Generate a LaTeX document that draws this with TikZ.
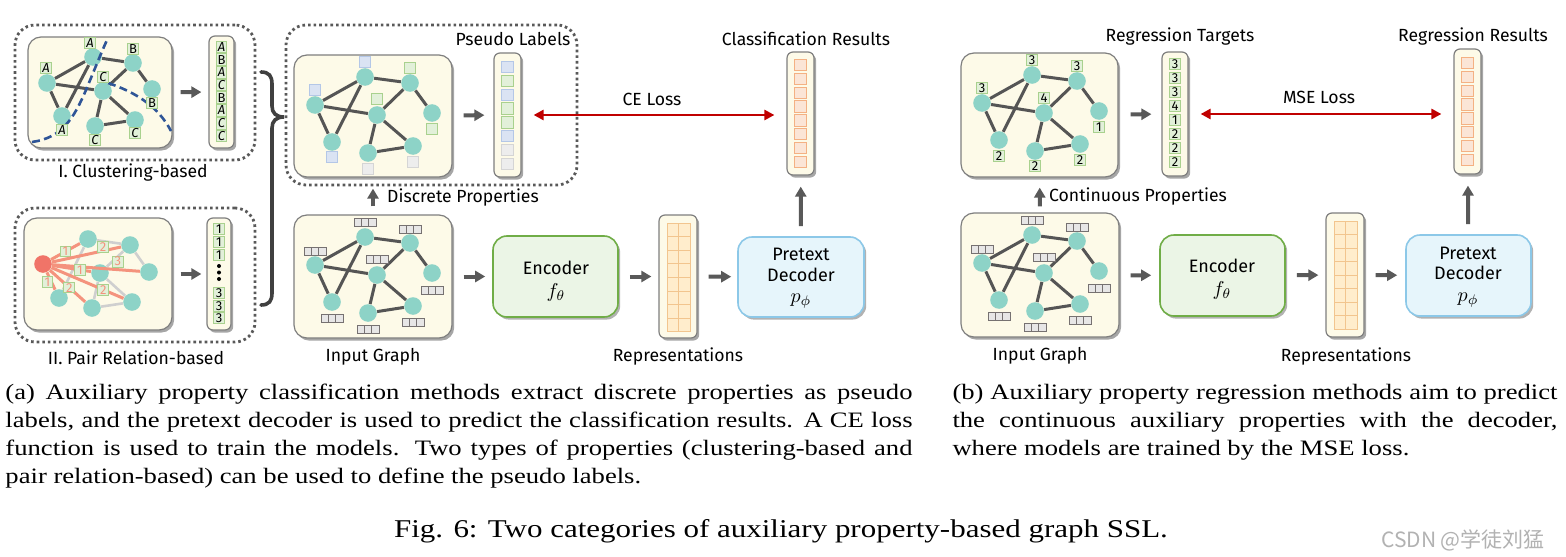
\documentclass[tikz,border=0pt]{standalone}
\usepackage{fontspec}
\setmainfont{Liberation Serif}
\newfontfamily\dfont{Fira Sans}
\newfontfamily\wmfont{Noto Sans CJK SC}
\usetikzlibrary{arrows.meta,shadows,fit,calc}
\definecolor{cream}{HTML}{FDFAE8}
\definecolor{boxgray}{HTML}{7F7F7F}
\definecolor{dotgray}{HTML}{595959}
\definecolor{nteal}{HTML}{8DD3C7}
\definecolor{edgegray}{HTML}{555555}
\definecolor{arrowgray}{HTML}{595959}
\definecolor{dred}{HTML}{C00000}
\definecolor{dblue}{HTML}{2F5597}
\definecolor{sqgf}{HTML}{E2F0D9}
\definecolor{sqgd}{HTML}{A9D18E}
\definecolor{sqbf}{HTML}{DAE3F3}
\definecolor{sqbd}{HTML}{B4C7E7}
\definecolor{sqyf}{HTML}{EDEDED}
\definecolor{sqyd}{HTML}{D5D5D5}
\definecolor{resf}{HTML}{FBE5D6}
\definecolor{resd}{HTML}{F4B183}
\definecolor{repf}{HTML}{FFEDCC}
\definecolor{repd}{HTML}{F2C58E}
\definecolor{encf}{HTML}{EBF5E6}
\definecolor{encd}{HTML}{70AD47}
\definecolor{decf}{HTML}{E6F5FB}
\definecolor{decd}{HTML}{8CC8E8}
\definecolor{featf}{HTML}{E7E6E6}
\definecolor{featd}{HTML}{767171}
\definecolor{salmon}{HTML}{F4937D}
\definecolor{rednode}{HTML}{F07468}
\definecolor{lgray}{HTML}{CFCFCF}
\definecolor{bracec}{HTML}{404040}
\tikzset{
 gbox/.style={draw=boxgray, line width=0.6pt, fill=cream, rounded corners=6.5pt, inner sep=0pt,
   drop shadow={shadow xshift=1.1pt, shadow yshift=-1.3pt, opacity=0.35, fill=black}},
 vbox/.style={gbox, rounded corners=3pt},
 dotbox/.style={draw=dotgray, line width=1.4pt, dash pattern=on 1.3pt off 1.5pt, rounded corners=10pt, inner sep=0pt},
 gn/.style={circle, fill=nteal, minimum size=8.8pt, inner sep=0pt},
 ge/.style={draw=edgegray, line width=1.5pt},
 garrow/.style={draw=arrowgray, line width=2pt, -{Triangle[length=5pt,width=5.5pt]}},
 larrow/.style={draw=dred, line width=1.3pt, {Triangle[length=5pt,width=5pt]}-{Triangle[length=5pt,width=5pt]}},
 lbl/.style={font=\dfont\fontsize{8.8}{10}\selectfont, inner sep=0pt},
 blbl/.style={font=\dfont\fontsize{9}{11}\selectfont, inner sep=0pt},
 mlbl/.style={font=\fontsize{10}{11}\selectfont, inner sep=0pt},
 sqt/.style={draw=sqgd, fill=sqgf, line width=0.5pt, minimum width=5.4pt, minimum height=5.4pt, inner sep=0pt, font=\dfont\fontsize{6.5}{6.5}\selectfont},
 sqv/.style={sqt, minimum height=5.8pt},
 sqp/.style={line width=0.5pt, minimum size=5.6pt, inner sep=0pt},
 feat/.style={draw=featd, fill=featf, line width=0.5pt, minimum width=11pt, minimum height=4pt, inner sep=0pt,
   path picture={\draw[featd, line width=0.5pt]
     ($(path picture bounding box.south west)!0.3333!(path picture bounding box.south east)$) --
     ($(path picture bounding box.north west)!0.3333!(path picture bounding box.north east)$)
     ($(path picture bounding box.south west)!0.6667!(path picture bounding box.south east)$) --
     ($(path picture bounding box.north west)!0.6667!(path picture bounding box.north east)$);}},
 encbox/.style={draw=encd, fill=encf, line width=0.8pt, rounded corners=7pt, inner sep=0pt,
   drop shadow={shadow xshift=1.1pt, shadow yshift=-1.3pt, opacity=0.3, fill=black}},
 decbox/.style={encbox, draw=decd, fill=decf},
 repcell/.style={draw=repd, fill=repf, line width=0.5pt},
 rescell/.style={draw=resd, fill=resf, line width=0.5pt, minimum size=5.6pt, inner sep=0pt},
 cdash/.style={draw=dblue, line width=1.3pt, dash pattern=on 4pt off 2.2pt},
 captxt/.style={font=\fontsize{11}{14}\selectfont, inner sep=0pt, transform shape},
}
\newcommand{\stdgraph}[3]{%
 \begin{scope}[shift={(#2,#3)}]
  \node[gn] (#1a) at (71,22) {};
  \node[gn] (#1b) at (21,50) {};
  \node[gn] (#1c) at (116,28) {};
  \node[gn] (#1d) at (83,60) {};
  \node[gn] (#1e) at (138,58) {};
  \node[gn] (#1f) at (38,87) {};
  \node[gn] (#1g) at (74,98) {};
  \node[gn] (#1h) at (119,91) {};
 \end{scope}
 \foreach \ea/\eb in {a/b,a/c,b/d,a/f,b/f,c/d,c/e,d/g,d/h,g/h} \draw[ge] (#1\ea) -- (#1\eb);
}
\begin{document}
\begin{tikzpicture}[x=0.5pt,y=-0.5pt]
\fill[white] (0,0) rectangle (1566,556);
\useasboundingbox (0,0) rectangle (1566,556);

% ================= Panel I: clustering
\node[dotbox, fit={(15,25) (255,160)}] (dI) {};
\node[gbox, fit={(28,37) (172,148)}] (gI) {};
\node[vbox, fit={(209,36) (234,148)}] (vI) {};
\node[gn] (ca) at (93,57) {};
\node[gn] (cb) at (47,83) {};
\node[gn] (cc) at (133,63) {};
\node[gn] (cd) at (103,91) {};
\node[gn] (ce) at (152,89) {};
\node[gn] (cf) at (62,116) {};
\node[gn] (cg) at (95,126) {};
\node[gn] (ch) at (135,120) {};
\foreach \ea/\eb in {a/b,a/c,b/d,a/f,b/f,c/d,c/e,d/g,d/h,g/h} \draw[ge] (c\ea) -- (c\eb);
\draw[cdash] (32,142) .. controls (62,138) and (74,118) .. (86,90) .. controls (96,66) and (104,46) .. (108,38);
\draw[cdash] (108,83) .. controls (135,92) and (158,106) .. (171,131);
\node[sqt] (cal) at (90,43) {\itshape A};
\node[sqt] (cbl) at (46,68) {\itshape A};
\node[sqt] (ccl) at (133,49) {B};
\node[sqt] (cdl) at (103,77) {\itshape C};
\node[sqt] (cel) at (152,103) {B};
\node[sqt] (cfl) at (62,130) {\itshape A};
\node[sqt] (cgl) at (95,140) {\itshape C};
\node[sqt] (chl) at (135,133) {\itshape C};
\foreach \lt [count=\i from 0] in {{\itshape A},B,{\itshape A},{\itshape C},B,{\itshape A},{\itshape C},{\itshape C}}
  \node[sqv] (vI\i) at (221.5,47+12.7*\i) {\lt};
\draw[garrow, shorten <=4pt, shorten >=3.5pt] (gI) -- (vI);
\node[lbl] (tI) at (133,173) {I. Clustering-based};

% ================= Panel II: pair relation
\node[dotbox, fit={(15,208) (255,342)}] (dII) {};
\node[gbox, fit={(24,218) (172,330)}] (gII) {};
\node[vbox, fit={(207,218) (231,330)}] (vII) {};
\node[gn, fill=rednode] (r0) at (43,264) {};
\node[gn] (r1) at (88,239) {};
\node[gn] (r2) at (130,245) {};
\node[gn] (r3) at (100,273) {};
\node[gn] (r4) at (149,272) {};
\node[gn] (r5) at (59,298) {};
\node[gn] (r6) at (92,308) {};
\node[gn] (r7) at (132,302) {};
\foreach \ea/\eb in {1/2,1/5,2/3,2/4,3/6,3/7,6/7} \draw[lgray, line width=1.3pt] (r\ea) -- (r\eb);
\draw[salmon, line width=1.5pt] (r0) -- (r1) node[sqt, pos=0.5] (l01) {1};
\draw[salmon, line width=1.5pt] (r0) -- (r2) node[sqt, pos=0.74, yshift=2pt] (l02) {2};
\draw[salmon, line width=1.5pt] (r0) -- (r4) node[sqt, pos=0.75, yshift=4pt] (l04) {3};
\draw[salmon, line width=1.5pt] (r0) -- (r3) node[sqt, pos=0.72] (l03) {1};
\draw[salmon, line width=1.5pt] (r0) -- (r5) node[sqt, pos=0.56, xshift=-2pt] (l05) {1};
\draw[salmon, line width=1.5pt] (r0) -- (r6) node[sqt, pos=0.55] (l06) {2};
\draw[salmon, line width=1.5pt] (r0) -- (r7) node[sqt, pos=0.72] (l07) {2};
\foreach \lt/\yy in {1/229,1/242,1/255,3/293,3/306,3/318}
  \node[sqv] at (219,\yy) {\lt};
\foreach \yy in {266,272.5,279} \fill (219,\yy) circle (1pt);
\draw[garrow, shorten <=4pt, shorten >=2.5pt] (gII) -- (vII);
\node[lbl] (tII) at (136,358) {II. Pair Relation-based};

% brace
\draw[bracec, line width=1.8pt, line cap=round]
  (261,72) .. controls (269,72) and (272,76) .. (272,84) -- (272,106)
  .. controls (272,113) and (276,117) .. (284,117)
  .. controls (276,117) and (272,121) .. (272,128) -- (272,293)
  .. controls (272,301) and (269,305) .. (261,305);

% ================= Pseudo labels
\node[dotbox, fit={(286,25) (577,185)}] (dP) {};
\node[gbox, fit={(294,55) (452,177)}] (gP) {};
\stdgraph{p}{294}{55}
\foreach \nn/\fc/\dc/\ys in {a/sqbf/sqbd/7.5pt, b/sqbf/sqbd/7.5pt, c/sqgf/sqgd/7.5pt, d/sqgf/sqgd/8pt,
   e/sqgf/sqgd/-8pt, f/sqbf/sqbd/-7.5pt, g/sqyf/sqyd/-8pt, h/sqyf/sqyd/-8pt}
  \node[sqp, fill=\fc, draw=\dc] (p\nn l) at ([yshift=\ys]p\nn.center) {};
\node[vbox, fit={(494,53) (521,177)}] (vP) {};
\foreach \fc/\dc [count=\i from 0] in {sqbf/sqbd,sqgf/sqgd,sqbf/sqbd,sqgf/sqgd,sqgf/sqgd,sqbf/sqbd,sqyf/sqyd,sqyf/sqyd}
  \node[sqp, fill=\fc, draw=\dc] (vP\i) at (507.5,67+13.86*\i) {};
\draw[garrow, shorten <=5.5pt, shorten >=4.5pt] (gP) -- (vP);
\node[lbl] (tP) at (513,39) {Pseudo Labels};

% ================= Input graph (a)
\node[gbox, fit={(294,215) (452,338)}] (gA) {};
\stdgraph{i}{294}{215}
\foreach \nn/\ys in {a/7.5pt,b/7pt,c/7pt,d/8pt,e/-8.5pt,f/-8pt,g/-8pt,h/-8pt}
  \node[feat] (i\nn f) at ([yshift=\ys]i\nn.center) {};
\node[lbl] (tA) at (373,357) {Input Graph};
\draw[garrow, shorten <=4pt, shorten >=5.5pt] (gA) -- (gP);
\node[lbl] (tDP) at (463,198) {Discrete Properties};

\node[encbox, fit={(493,236) (618,317)}] (encA) {};
\node[blbl] (encA1) at (556,268) {Encoder};
\node[mlbl] (encA2) at (556,292) {$f_\theta$};
\node[vbox, fit={(659,215) (697,338)}] (rA) {};
\foreach \i in {0,...,7} \foreach \j in {0,1}
  \draw[repcell] (667+11.5*\j,223+13.6*\i) rectangle ++(11.5,13.6);
\node[lbl] (tRA) at (678,357) {Representations};
\node[decbox, fit={(738,237) (864,317)}] (decA) {};
\node[blbl] (decA1) at (801,254) {Pretext};
\node[blbl] (decA2) at (801,275) {Decoder};
\node[mlbl] (decA3) at (801,301) {$p_\phi$};
\node[vbox, fit={(787,52) (814,175)}] (vC) {};
\foreach \i in {0,...,7} \node[rescell] (vC\i) at (800.5,65+13.86*\i) {};
\node[lbl] (tC) at (806,39) {Classification Results};
\draw[garrow, shorten <=5.5pt, shorten >=3.5pt] (gA) -- (encA);
\draw[garrow, shorten <=5.5pt, shorten >=3.5pt] (encA) -- (rA);
\draw[garrow, shorten <=5.5pt, shorten >=3pt] (rA) -- (decA);
\draw[garrow, shorten <=5pt, shorten >=5.5pt] (decA) -- (vC);
\draw[larrow, shorten <=6pt, shorten >=6pt] (vP.east) -- (vP.east -| vC.west);
\node[lbl] (tCE) at (652,99) {CE Loss};

% ================= Panel (b)
\node[gbox, fit={(961,53) (1118,177)}] (gR) {};
\stdgraph{g}{961}{53}
\foreach \nn/\lt/\ys in {a/3/7.5pt,b/3/7.5pt,c/3/7.5pt,d/4/7.5pt,e/1/-8pt,f/2/-8pt,g/2/-7.5pt,h/2/-8pt}
  \node[sqt] (g\nn l) at ([yshift=\ys]g\nn.center) {\lt};
\node[vbox, fit={(1162,52) (1188,176)}] (vT) {};
\foreach \lt [count=\i from 0] in {3,3,3,4,1,2,2,2}
  \node[sqv] (vT\i) at (1175,64+14*\i) {\lt};
\draw[garrow, shorten <=6pt, shorten >=5pt] (gR) -- (vT);
\node[lbl] (tT) at (1180,37) {Regression Targets};

\node[gbox, fit={(961,213) (1119,337)}] (gJ) {};
\stdgraph{j}{961}{213}
\foreach \nn/\ys in {a/7.5pt,b/7pt,c/7pt,d/8pt,e/-8.5pt,f/-8pt,g/-8pt,h/-8pt}
  \node[feat] (j\nn f) at ([yshift=\ys]j\nn.center) {};
\node[lbl] (tJ) at (1040,356) {Input Graph};
\draw[garrow, shorten <=3pt, shorten >=5pt] (gJ) -- (gR);
\node[lbl] (tCP) at (1138,197) {Continuous Properties};

\node[encbox, fit={(1160,235) (1285,316)}] (encB) {};
\node[blbl] (encB1) at (1222,266) {Encoder};
\node[mlbl] (encB2) at (1222,290) {$f_\theta$};
\node[vbox, fit={(1326,213) (1364,337)}] (rB) {};
\foreach \i in {0,...,7} \foreach \j in {0,1}
  \draw[repcell] (1334+11.5*\j,221+13.5*\i) rectangle ++(11.5,13.5);
\node[lbl] (tRB) at (1346,357) {Representations};
\node[decbox, fit={(1406,235) (1531,316)}] (decB) {};
\node[blbl] (decB1) at (1468,253) {Pretext};
\node[blbl] (decB2) at (1468,273) {Decoder};
\node[mlbl] (decB3) at (1468,300) {$p_\phi$};
\node[vbox, fit={(1454,49) (1481,174)}] (vRR) {};
\foreach \i in {0,...,7} \node[rescell] (vRR\i) at (1467.5,63+13.86*\i) {};
\node[lbl] (tRR) at (1473,37) {Regression Results};
\draw[garrow, shorten <=5.5pt, shorten >=4pt] (gJ) -- (encB);
\draw[garrow, shorten <=5.5pt, shorten >=3.5pt] (encB) -- (rB);
\draw[garrow, shorten <=5.5pt, shorten >=4pt] (rB) -- (decB);
\draw[garrow, shorten <=5pt, shorten >=5.5pt] (decB) -- (vRR);
\draw[larrow, shorten <=6pt, shorten >=6pt] (vT.east) -- (vT.east -| vRR.west);
\node[lbl] (tMSE) at (1319,97) {MSE Loss};

% ================= Captions
\begin{scope}[shift={(5,0)}, xscale=1.21]
 \node[captxt, anchor=base west] (ca1) at (0,399) {\makebox[374.8pt][s]{(a) Auxiliary property classification methods extract discrete properties as pseudo}};
 \node[captxt, anchor=base west] (ca2) at (0,427) {\makebox[374.8pt][s]{labels, and the pretext decoder is used to predict the classification results. A CE loss}};
 \node[captxt, anchor=base west] (ca3) at (0,455) {\makebox[374.8pt][s]{function is used to train the models. Two types of properties (clustering-based and}};
 \node[captxt, anchor=base west] (ca4) at (0,483) {pair relation-based) can be used to define the pseudo labels.};
\end{scope}
\begin{scope}[shift={(952,0)}, xscale=1.21]
 \node[captxt, anchor=base west] (cb1) at (0,399) {\makebox[250pt][s]{(b) Auxiliary property regression methods aim to predict}};
 \node[captxt, anchor=base west] (cb2) at (0,427) {\makebox[250pt][s]{the continuous auxiliary properties with the decoder,}};
 \node[captxt, anchor=base west] (cb3) at (0,455) {where models are trained by the MSE loss.};
\end{scope}
\begin{scope}[shift={(781,0)}, xscale=1.21]
 \node[captxt, font=\fontsize{12.8}{15}\selectfont, anchor=base] (fig) at (0,537) {Fig. 6: Two categories of auxiliary property-based graph SSL.};
\end{scope}
\node[font=\wmfont\fontsize{10.5}{12}\selectfont, text=black!30, anchor=base, inner sep=0pt] (wm) at (1463,547) {CSDN @学徒刘猛};
\end{tikzpicture}
\end{document}
